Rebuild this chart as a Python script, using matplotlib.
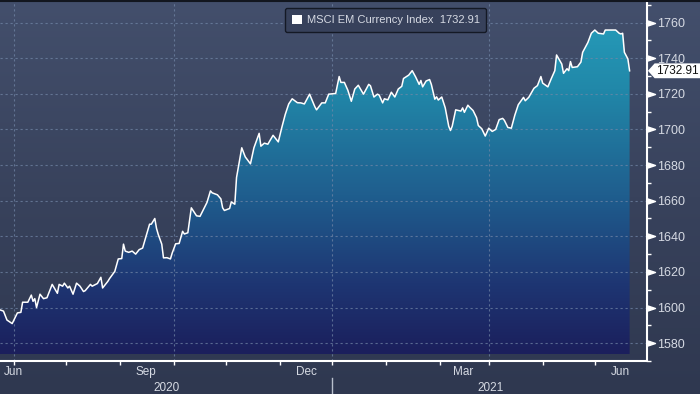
from datetime import date, timedelta

import matplotlib

matplotlib.use("Agg")
import matplotlib.dates as mdates
import matplotlib.pyplot as plt
import matplotlib.transforms as mtransforms
import numpy as np
from matplotlib.colors import LinearSegmentedColormap
from matplotlib.patches import Patch
from matplotlib.path import Path


SERIES_NAME = "MSCI EM Currency Index"
LAST_VALUE = 1732.91
START_DATE = date(2020, 5, 24)
END_DATE = date(2021, 5, 31)

# days after START_DATE
DAY_OFFSETS = [
    0, 2, 4, 6, 7, 10, 12, 13, 16, 18, 19, 20, 21, 23, 25, 27, 30, 33, 34, 36,
    37, 39, 40, 42, 44, 46, 48, 49, 52, 53, 56, 58, 59, 62, 63, 66, 68, 70, 71, 72,
    74, 76, 78, 80, 82, 83, 86, 87, 89, 90, 91, 93, 94, 96, 98, 99, 101, 103, 105, 106,
    108, 110, 112, 113, 115, 118, 119, 121, 122, 125, 127, 128, 129, 132, 133, 135, 136, 139, 141, 144,
    146, 149, 150, 152, 154, 157, 160, 162, 164, 166, 168, 171, 173, 175, 178, 181, 182, 185, 187, 189,
    191, 193, 195, 196, 198, 200, 202, 204, 206, 209, 212, 213, 215, 217, 218, 220, 221, 223, 225, 227,
    229, 231, 232, 235, 237, 239, 241, 242, 243, 245, 247, 248, 250, 251, 252, 254, 256, 258, 259, 260,
    262, 265, 266, 267, 269, 270, 272, 274, 275, 277, 279, 281, 283, 285, 287, 289, 290, 292, 294, 296,
    298, 301, 302, 304, 307, 309, 311, 312, 315, 317, 319, 320, 323, 324, 326, 327, 328, 329, 332, 334,
    335, 338, 340, 342, 344, 347, 348, 351, 354, 356, 357, 358, 359, 361, 362,
]
INDEX_VALUES = [
    1598.7, 1598.0, 1593.0, 1591.7, 1591.0, 1597.0, 1597.3, 1603.0, 1603.0, 1607.0,
    1603.5, 1605.0, 1600.0, 1607.5, 1605.0, 1605.5, 1613.0, 1608.0, 1613.0, 1612.0,
    1613.7, 1611.0, 1612.0, 1607.5, 1613.7, 1612.0, 1609.0, 1609.5, 1613.0, 1612.0,
    1613.5, 1617.0, 1611.0, 1614.7, 1616.3, 1620.3, 1627.3, 1627.5, 1635.6, 1631.7,
    1631.0, 1631.7, 1630.0, 1632.5, 1633.4, 1636.7, 1646.8, 1646.8, 1650.0, 1644.4,
    1641.0, 1635.6, 1627.9, 1628.0, 1627.3, 1630.6, 1635.8, 1636.0, 1642.8, 1641.3,
    1642.0, 1656.0, 1653.0, 1651.5, 1651.2, 1657.0, 1659.0, 1665.5, 1664.4, 1663.3,
    1661.0, 1656.0, 1654.5, 1655.6, 1659.3, 1658.0, 1673.0, 1689.7, 1684.6, 1680.7,
    1689.7, 1697.8, 1690.6, 1692.3, 1691.7, 1696.7, 1693.0, 1701.0, 1708.4, 1714.3,
    1717.2, 1715.0, 1714.9, 1714.3, 1719.8, 1712.8, 1711.0, 1714.9, 1714.9, 1719.8,
    1720.0, 1720.2, 1729.7, 1726.4, 1726.4, 1722.0, 1715.8, 1722.7, 1724.8, 1719.8,
    1725.3, 1724.5, 1718.2, 1719.8, 1719.3, 1714.9, 1717.2, 1716.6, 1720.9, 1718.2,
    1722.7, 1724.2, 1728.6, 1730.5, 1733.0, 1729.4, 1725.3, 1727.5, 1723.9, 1727.2,
    1728.0, 1725.3, 1717.0, 1718.3, 1716.5, 1718.2, 1712.1, 1701.8, 1699.4, 1701.8,
    1711.0, 1710.3, 1712.1, 1709.6, 1713.6, 1712.5, 1710.6, 1706.6, 1702.2, 1700.4,
    1696.3, 1700.7, 1698.9, 1700.0, 1705.5, 1706.2, 1705.1, 1701.1, 1700.7, 1708.0,
    1713.9, 1718.0, 1716.1, 1718.0, 1723.1, 1724.6, 1729.7, 1726.0, 1723.9, 1728.6,
    1733.0, 1741.8, 1736.7, 1731.5, 1734.1, 1733.0, 1738.1, 1734.8, 1735.2, 1737.8,
    1743.3, 1748.8, 1754.0, 1755.8, 1754.0, 1753.6, 1755.8, 1755.8, 1755.8, 1754.0,
    1753.6, 1754.0, 1743.3, 1739.6, 1732.91,
]

Y_TICKS = [1580, 1600, 1620, 1640, 1660, 1680, 1700, 1720, 1740, 1760]
Y_LIMITS = (1573.9, 1772.1)
GRID_DATES = ["2020-06-01", "2020-09-01", "2020-12-01", "2021-03-01"]
MONTH_LABELS = ["Jun", "Sep", "Dec", "Mar", "Jun"]
MONTH_LABEL_DATES = ["2020-06-01", "2020-08-16", "2020-11-16", "2021-02-14", "2021-05-16"]
YEAR_LABELS = ["2020", "2021"]
YEAR_LABEL_DATES = ["2020-08-28", "2021-03-02"]
YEAR_BREAK_DATE = "2020-12-01"

TEXT_COLOR = "#d6dae3"
FONT = ["Liberation Sans", "DejaVu Sans"]


def to_num(day):
    return mdates.date2num(np.datetime64(day))


def tag_box(x0, y0, width, height, mutation_size):
    # white price tag with a point on the left side
    pad = 0.12 * mutation_size
    left, right = x0 - pad, x0 + width + pad
    bottom, top = y0 - pad, y0 + height + pad
    tip = (top - bottom) * 0.45
    mid = (top + bottom) / 2
    return Path(
        [(left - tip, mid), (left, bottom), (right, bottom), (right, top), (left, top), (left - tip, mid)],
        closed=True,
    )


def draw_chart():
    plt.rcParams["font.family"] = FONT

    fig = plt.figure(figsize=(7, 3.94), dpi=100)

    bg_ax = fig.add_axes([0, 0, 1, 1])
    bg_cmap = LinearSegmentedColormap.from_list("bg", ["#2f3850", "#38425c", "#434f6c"])
    bg_ax.imshow(np.linspace(0, 1, 256).reshape(-1, 1), cmap=bg_cmap, aspect="auto",
                 origin="lower", extent=[0, 1, 0, 1])
    bg_ax.axis("off")
    bg_ax.set_zorder(-1)

    ax = fig.add_axes([0, 33 / 394, 647 / 700, 360 / 394])
    ax.patch.set_visible(False)

    dates = [START_DATE + timedelta(days=d) for d in DAY_OFFSETS]
    x = mdates.date2num(dates)
    y = np.array(INDEX_VALUES)
    x_min, x_max = mdates.date2num(START_DATE), mdates.date2num(END_DATE)

    # gradient area under the line (last vertex is dropped by closed=True, so repeat the first)
    verts = [(x[0], Y_LIMITS[0])] + list(zip(x, y)) + [(x[-1], Y_LIMITS[0]), (x[0], Y_LIMITS[0])]
    area = Path(verts, closed=True)
    fill_cmap = LinearSegmentedColormap.from_list(
        "fill",
        [(0.0, "#1b1f5c"), (0.2, "#1e3673"), (0.45, "#1f5e8e"), (0.75, "#2188a9"), (1.0, "#27a0bd")],
    )
    im = ax.imshow(np.linspace(0, 1, 256).reshape(-1, 1), cmap=fill_cmap, origin="lower",
                   aspect="auto", extent=[x_min, x_max, Y_LIMITS[0], Y_LIMITS[1]], zorder=1)
    im.set_clip_path(area, ax.transData)

    ax.plot(x, y, color="white", linewidth=1.1, zorder=4)

    ax.set_xlim(x_min, x_max)
    ax.set_ylim(*Y_LIMITS)

    # grid
    grid_style = dict(color="#7488a8", linewidth=0.8, linestyle=(0, (2, 2.5)), alpha=0.7, zorder=2)
    for value in Y_TICKS:
        ax.axhline(value, **grid_style)
    for day in GRID_DATES:
        ax.axvline(to_num(day), **grid_style)

    for side in ["left", "top"]:
        ax.spines[side].set_visible(False)
    for side in ["bottom", "right"]:
        ax.spines[side].set_color("white")
        ax.spines[side].set_linewidth(1.5)
        ax.spines[side].set_zorder(5)

    # y axis on the right with triangle markers
    ax.yaxis.tick_right()
    ax.set_yticks(Y_TICKS)
    ax.set_yticks(np.arange(1570, 1775, 20), minor=True)
    ax.tick_params(axis="y", which="major", length=0, pad=7.5, labelsize=9, labelcolor=TEXT_COLOR)
    ax.tick_params(axis="y", which="minor", length=3, width=1, color="white", direction="out")
    right_edge = mtransforms.blended_transform_factory(ax.transAxes, ax.transData)
    ax.plot(np.ones(len(Y_TICKS)), Y_TICKS, transform=right_edge, linestyle="none",
            marker=[(0, -1), (3, 0), (0, 1)], markersize=11.5, color="white", clip_on=False, zorder=6)

    # x axis: monthly ticks, labels placed by hand
    ax.xaxis.set_major_locator(mdates.MonthLocator())
    ax.xaxis.set_major_formatter(plt.NullFormatter())
    ax.tick_params(axis="x", which="major", length=3, width=1, color="white", direction="out")
    bottom_edge = mtransforms.blended_transform_factory(ax.transData, ax.transAxes)
    for label, day in zip(MONTH_LABELS, MONTH_LABEL_DATES):
        ax.text(to_num(day), -0.031, label, transform=bottom_edge, ha="center", va="center",
                fontsize=8.5, color=TEXT_COLOR)
    for label, day in zip(YEAR_LABELS, YEAR_LABEL_DATES):
        ax.text(to_num(day), -0.074, label, transform=bottom_edge, ha="center", va="center",
                fontsize=8.5, color=TEXT_COLOR)
    ax.plot([to_num(YEAR_BREAK_DATE)] * 2, [-0.047, -0.1], transform=bottom_edge,
            color="#b8bfcc", linewidth=1, clip_on=False)

    # last value tag
    ax.annotate(f"{LAST_VALUE:.2f}", xy=(1, LAST_VALUE), xycoords=("axes fraction", "data"),
                xytext=(6.5, 0), textcoords="offset points", ha="left", va="center",
                fontsize=8.5, color="#111111", annotation_clip=False, zorder=7,
                bbox=dict(boxstyle=tag_box, fc="white", ec="none"))

    handle = Patch(facecolor="white", edgecolor="none")
    legend = ax.legend(
        [handle], [f"{SERIES_NAME}  {LAST_VALUE:.2f}"],
        loc="upper left", bbox_to_anchor=(285 / 647, 353 / 360), borderaxespad=0,
        fontsize=8, labelcolor=TEXT_COLOR, handlelength=0.9, handleheight=0.9,
        handletextpad=0.45, borderpad=0.6, fancybox=True, framealpha=1,
    )
    frame = legend.get_frame()
    frame.set_facecolor("#37415b")
    frame.set_edgecolor("#141925")
    frame.set_linewidth(1.0)
    legend.set_zorder(8)

    # thin dark rule along the top edge
    fig.add_artist(plt.Line2D([0, 1], [0.9985, 0.9985], transform=fig.transFigure,
                              color="#12161f", linewidth=1.5))

    fig.savefig("out.png", dpi=100)
    plt.close(fig)


def main() -> None:
    draw_chart()


if __name__ == "__main__":
    main()
